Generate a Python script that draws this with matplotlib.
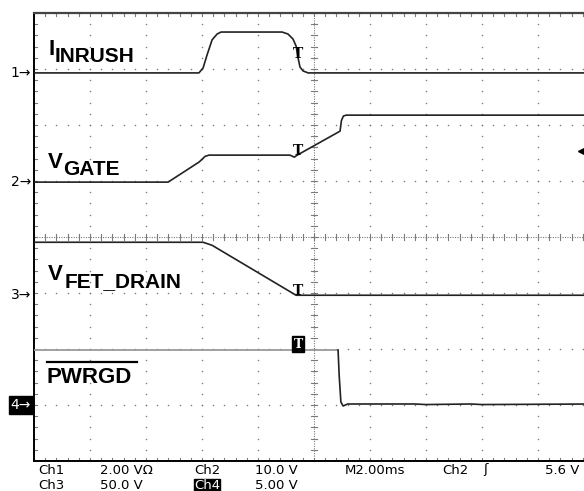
import numpy as np
import matplotlib.pyplot as plt
from matplotlib.lines import Line2D

# time axis in ms (2 ms/div, 10 div), values in channel units
t_ch1 = [0, 5.89, 6.04, 6.18, 6.36, 6.54, 6.68, 8.86, 9.07, 9.25, 9.36, 9.43, 9.5, 9.61, 9.79, 20]
v_ch1 = [0, 0, 0.18, 0.64, 1.18, 1.39, 1.46, 1.46, 1.39, 1.21, 0.96, 0.54, 0.21, 0.07, 0, 0]

t_ch2 = [0, 4.79, 5.9, 6.11, 6.25, 9.14, 9.3, 9.4, 10.93, 10.98, 11.05, 11.15, 20]
v_ch2 = [0, 0, 3.6, 4.6, 4.82, 4.82, 4.46, 4.82, 9.1, 11.0, 11.8, 11.96, 11.96]

t_ch3 = [0, 6.04, 6.36, 9.36, 20]
v_ch3 = [47.3, 47.3, 44.6, 0, 0]

t_ch4 = [0, 10.86, 10.9, 10.96, 11.04, 11.2, 13.6, 14.0, 15.6, 16.0, 20]
v_ch4 = [4.9, 4.9, 2.6, 0.27, -0.09, 0.09, 0.09, 0.04, 0.09, 0.04, 0.09]

scales = [2.0, 10.0, 50.0, 5.0]          # V/div
offsets = [2.93, 0.98, -1.04, -3.0]      # div
labels = [("I", "INRUSH"), ("V", "GATE"), ("V", "FET_DRAIN"), ("", "PWRGD")]
t_cursor = 9.43
trig_level = 5.6

W, H = 584, 491


def fx(px):
    return px / W


def fy(py):
    return 1 - py / H


def to_div(vals, ch):
    return offsets[ch] + np.array(vals) / scales[ch]


def main():
    fig = plt.figure(figsize=(W / 100, H / 100), dpi=100)
    fig.patch.set_facecolor("white")
    ax = fig.add_axes([fx(34), 30 / H, 560 / W, 448 / H])
    ax.set_xlim(0, 20)
    ax.set_ylim(-4, 4)
    ax.axis("off")

    grid_c = "#7a7a7a"
    xs_minor = np.arange(0, 20.01, 0.4)
    ys_minor = np.arange(-4, 4.01, 0.2)

    # graticule dots
    for k in range(1, 10):
        if k == 5:
            continue
        ax.scatter(np.full(len(ys_minor), 2 * k), ys_minor, s=1.2, color=grid_c, lw=0)
    for j in range(-3, 4):
        if j == 0:
            continue
        ax.scatter(xs_minor, np.full(len(xs_minor), j), s=1.2, color=grid_c, lw=0)

    # centre lines
    ax.axvline(10, color=grid_c, lw=0.8, ls=(0, (1, 1.2)))
    ax.axhline(0, color=grid_c, lw=0.8, ls=(0, (1, 1.2)))
    for y in ys_minor:
        ax.plot([9.9, 10.1], [y, y], color=grid_c, lw=0.8)
    for x in xs_minor:
        ax.plot([x, x], [-0.05, 0.05], color=grid_c, lw=0.8)

    # border ticks
    for x in xs_minor:
        ax.plot([x, x], [4, 3.94], color=grid_c, lw=0.8)
        ax.plot([x, x], [-4, -3.94], color=grid_c, lw=0.8)
    for y in ys_minor:
        ax.plot([0, 0.1], [y, y], color=grid_c, lw=0.8)

    # frame
    ax.plot([0, 0], [-4, 4], color="black", lw=1.4, clip_on=False)
    ax.plot([0, 20], [4, 4], color="#444444", lw=1.6, clip_on=False)
    ax.plot([0, 20], [-4, -4], color="black", lw=1.4, clip_on=False)

    # traces
    ax.plot(t_ch1, to_div(v_ch1, 0), color="#222222", lw=1.2)
    ax.plot(t_ch2, to_div(v_ch2, 1), color="#222222", lw=1.2)
    ax.plot(t_ch3, to_div(v_ch3, 2), color="#222222", lw=1.2)
    y4 = to_div(v_ch4, 3)
    ax.plot(t_ch4[:2], y4[:2], color="#9a9a9a", lw=1.3)
    ax.plot(t_ch4[1:], y4[1:], color="#222222", lw=1.2)

    # cursor "T" markers sitting on each trace
    for ch, (tt, vv) in enumerate([(t_ch1, v_ch1), (t_ch2, v_ch2), (t_ch3, v_ch3), (t_ch4, v_ch4)]):
        level = offsets[ch] + np.interp(t_cursor, tt, vv) / scales[ch]
        if ch == 3:
            ax.text(t_cursor, level + 0.04, "T", ha="center", va="baseline",
                    fontsize=9, fontweight="bold", family="DejaVu Serif", color="white",
                    bbox=dict(boxstyle="square,pad=0.12", fc="black", ec="black"))
        else:
            ax.text(t_cursor, level, "T", ha="center", va="baseline",
                    fontsize=10, fontweight="bold", family="DejaVu Serif", color="black")

    # trigger level arrow on right edge
    ax.plot(19.55, offsets[1] + trig_level / scales[1], marker="<", ms=4, color="black",
            clip_on=False)

    # channel ground markers
    for ch in range(4):
        py = 237 - offsets[ch] * 56
        if ch == 3:
            fig.text(fx(31), fy(py), "%d\u2192" % (ch + 1), ha="right", va="center",
                     fontsize=10, color="white", family="DejaVu Sans",
                     bbox=dict(boxstyle="square,pad=0.15", fc="black", ec="black"))
        else:
            fig.text(fx(31), fy(py), "%d\u2192" % (ch + 1), ha="right", va="center",
                     fontsize=10, color="black", family="DejaVu Sans")

    # signal names
    lab_font = dict(family="Liberation Sans", fontweight="bold", color="black")
    name_pos = [(49, 55, 55, 62), (48, 168, 63, 175), (48, 280, 65, 287), (None, None, 47, 383)]
    for (big, sub), (bx, by, sx, sy) in zip(labels, name_pos):
        if big:
            fig.text(fx(bx), fy(by), big, ha="left", va="baseline", fontsize=16, **lab_font)
            fig.text(fx(sx), fy(sy), sub, ha="left", va="baseline", fontsize=15, **lab_font)
        else:
            fig.text(fx(sx), fy(sy), sub, ha="left", va="baseline", fontsize=16, **lab_font)
    fig.add_artist(Line2D([fx(47), fx(137)], [fy(362), fy(362)], color="black", lw=1.6))

    # readout
    ro = dict(family="DejaVu Sans", fontsize=9.5, va="baseline", ha="left")
    line1 = [(38, "Ch1"), (100, "2.00 V\u03a9"), (194, "Ch2"), (255, "10.0 V"),
             (345, "M2.00ms"), (442, "Ch2"), (483, "\u0283"), (545, "5.6 V")]
    line2 = [(38, "Ch3"), (100, "50.0 V"), (255, "5.00 V")]
    for px, s in line1:
        fig.text(fx(px), fy(473.5), s, color="black", **ro)
    for px, s in line2:
        fig.text(fx(px), fy(489), s, color="black", **ro)
    fig.text(fx(194), fy(489), "Ch4", color="white",
             bbox=dict(boxstyle="square,pad=0.02", fc="black", ec="black"), **ro)

    fig.savefig("out.png", dpi=100, facecolor="white")


if __name__ == "__main__":
    main()
